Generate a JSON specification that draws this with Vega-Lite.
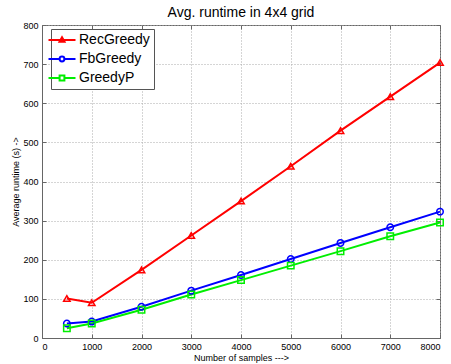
{
  "$schema": "https://vega.github.io/schema/vega-lite/v6.json",
  "autosize": "none",
  "width": 398,
  "height": 313,
  "padding": {"left": 42, "top": 25, "right": 11, "bottom": 26},
  "background": "white",
  "title": {"text": "Avg. runtime in 4x4 grid", "font": "Liberation Sans", "fontSize": 14, "fontWeight": "normal", "color": "black", "offset": 1},
  "config": {
    "view": {"stroke": "#666", "strokeWidth": 1},
    "axis": {
      "labelFont": "Liberation Sans", "labelFontSize": 9, "labelColor": "black",
      "titleFont": "Liberation Sans", "titleFontSize": 9, "titleFontWeight": "normal", "titleColor": "black",
      "domainColor": "#666", "tickColor": "#666", "tickSize": -4, "labelPadding": 8,
      "gridColor": "#aaa", "gridDash": [1, 2], "gridWidth": 1
    }
  },
  "data": {"values": [
    {"n": 500, "series": "RecGreedy", "t": 101},
    {"n": 1000, "series": "RecGreedy", "t": 90},
    {"n": 2000, "series": "RecGreedy", "t": 174},
    {"n": 3000, "series": "RecGreedy", "t": 262},
    {"n": 4000, "series": "RecGreedy", "t": 350},
    {"n": 5000, "series": "RecGreedy", "t": 439},
    {"n": 6000, "series": "RecGreedy", "t": 530},
    {"n": 7000, "series": "RecGreedy", "t": 617},
    {"n": 8000, "series": "RecGreedy", "t": 704},
    {"n": 500, "series": "FbGreedy", "t": 37},
    {"n": 1000, "series": "FbGreedy", "t": 42},
    {"n": 2000, "series": "FbGreedy", "t": 80},
    {"n": 3000, "series": "FbGreedy", "t": 121},
    {"n": 4000, "series": "FbGreedy", "t": 161},
    {"n": 5000, "series": "FbGreedy", "t": 202},
    {"n": 6000, "series": "FbGreedy", "t": 243},
    {"n": 7000, "series": "FbGreedy", "t": 283},
    {"n": 8000, "series": "FbGreedy", "t": 323},
    {"n": 500, "series": "GreedyP", "t": 25},
    {"n": 1000, "series": "GreedyP", "t": 37},
    {"n": 2000, "series": "GreedyP", "t": 72},
    {"n": 3000, "series": "GreedyP", "t": 111},
    {"n": 4000, "series": "GreedyP", "t": 148},
    {"n": 5000, "series": "GreedyP", "t": 185},
    {"n": 6000, "series": "GreedyP", "t": 222},
    {"n": 7000, "series": "GreedyP", "t": 260},
    {"n": 8000, "series": "GreedyP", "t": 295}
  ]},
  "layer": [
    {
      "encoding": {
        "x": {"field": "n", "type": "quantitative", "scale": {"domain": [0, 8000], "nice": false},
              "axis": {"orient": "bottom", "values": [0,1000,2000,3000,4000,5000,6000,7000,8000], "format": "d", "title": "Number of samples --->", "titlePadding": 2}},
        "y": {"field": "t", "type": "quantitative", "scale": {"domain": [0, 800], "nice": false},
              "axis": {"orient": "left", "values": [0,100,200,300,400,500,600,700,800], "format": "d", "title": "Average runtime (s) ->", "titlePadding": 2}},
        "color": {"field": "series", "type": "nominal",
          "scale": {"domain": ["RecGreedy", "FbGreedy", "GreedyP"], "range": ["#ff0000", "#0000ff", "#00ee00"]},
          "legend": {
            "title": null, "orient": "none", "legendX": 9, "legendY": 4,
            "strokeColor": "#555", "fillColor": "white", "padding": 4,
            "labelFont": "Liberation Sans", "labelFontSize": 14, "labelColor": "black", "labelOffset": 10,
            "symbolSize": 144, "symbolStrokeWidth": 2, "rowPadding": 5,
            "encode": {"symbols": {"update": {
              "shape": {"signal": "datum.value === 'RecGreedy' ? 'M-2.25,0H2.25M0,-0.45L0.42,0.3L-0.42,0.3Z' : datum.value === 'FbGreedy' ? 'M-2.25,0H-0.4M0.4,0H2.25M0.4,0A0.4,0.4,0,1,1,-0.4,0A0.4,0.4,0,1,1,0.4,0Z' : 'M-2.25,0H-0.4M0.4,0H2.25M-0.4,-0.4H0.4V0.4H-0.4Z'"},
              "fill": {"value": "transparent"},
              "strokeWidth": {"value": 2}
            }}}
          }
        }
      },
      "layer": [
        {"mark": {"type": "line", "strokeWidth": 2}},
        {"transform": [{"filter": "datum.series === 'RecGreedy'"}],
         "mark": {"type": "point", "shape": "triangle-up", "filled": false, "strokeWidth": 1.5, "size": 42, "opacity": 1}},
        {"transform": [{"filter": "datum.series === 'FbGreedy'"}],
         "mark": {"type": "point", "shape": "circle", "filled": false, "strokeWidth": 1.5, "size": 42, "opacity": 1}},
        {"transform": [{"filter": "datum.series === 'GreedyP'"}],
         "mark": {"type": "point", "shape": "square", "filled": false, "strokeWidth": 1.5, "size": 42, "opacity": 1}}
      ]
    },
    {"mark": {"type": "point", "opacity": 0},
     "encoding": {
       "x": {"field": "n", "type": "quantitative", "scale": {"domain": [0, 8000], "nice": false},
             "axis": {"orient": "top", "values": [0,1000,2000,3000,4000,5000,6000,7000,8000], "labels": false, "title": null, "grid": false, "domain": false}},
       "y": {"field": "t", "type": "quantitative", "scale": {"domain": [0, 800], "nice": false},
             "axis": {"orient": "right", "values": [0,100,200,300,400,500,600,700,800], "labels": false, "title": null, "grid": false, "domain": false}}
     }}
  ],
  "resolve": {"axis": {"x": "independent", "y": "independent"}}
}
